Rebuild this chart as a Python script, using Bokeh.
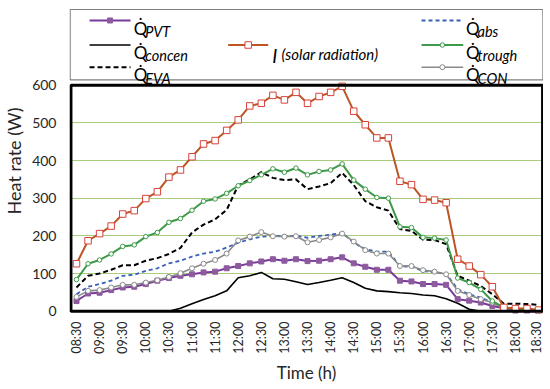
import math
from bokeh.plotting import figure
from bokeh.models import Range1d, FixedTicker
from bokeh.core.properties import value
from bokeh.embed import file_html
from bokeh.resources import INLINE

# ---------------- data (15-minute samples, 08:30 ... 18:30) ----------------
tick_labels = ["08:30", "09:00", "09:30", "10:00", "10:30", "11:00", "11:30",
               "12:00", "12:30", "13:00", "13:30", "14:00", "14:30", "15:00",
               "15:30", "16:00", "16:30", "17:00", "17:30", "18:00", "18:30"]
slot = list(range(41))

I_solar = [126, 187, 206, 226, 258, 267, 299, 317, 356, 375, 410, 444, 453, 480,
           508, 545, 552, 573, 561, 581, 552, 570, 581, 597, 531, 495, 460, 460,
           345, 336, 297, 295, 288, 138, 120, 97, 65, 10, 7, 7, 3]
Q_trough = [84, 126, 136, 152, 172, 176, 198, 209, 236, 246, 268, 292, 298, 313,
            333, 347, 362, 378, 369, 380, 362, 371, 375, 391, 348, 324, 302, 300,
            224, 222, 196, 194, 189, 88, 76, 58, 27, 10, 5, 3, 2]
Q_EVA = [63, 94, 100, 110, 122, 122, 134, 141, 152, 168, 209, 230, 244, 269,
         334, 350, 369, 354, 348, 350, 324, 331, 340, 367, 335, 292, 276, 267,
         218, 213, 190, 189, 178, 94, 81, 67, 45, 20, 20, 19, 17]
Q_abs = [45, 65, 72, 81, 94, 97, 107, 114, 127, 134, 145, 153, 158, 169,
         182, 191, 198, 200, 200, 200, 195, 200, 203, 208, 182, 165, 158, 158,
         120, 118, 107, 103, 100, 58, 45, 36, 23, 10, 5, 3, 2]
Q_CON = [38, 54, 56, 63, 70, 70, 76, 82, 91, 101, 114, 126, 136, 153,
         188, 198, 210, 199, 198, 199, 183, 189, 196, 206, 185, 162, 153, 153,
         120, 120, 109, 105, 98, 54, 43, 32, 23, 8, 4, 3, 2]
Q_PVT = [27, 47, 49, 56, 63, 65, 72, 81, 88, 94, 98, 103, 105, 114,
         120, 127, 132, 138, 134, 138, 133, 134, 138, 143, 127, 118, 110, 110,
         81, 79, 72, 72, 70, 32, 28, 23, 14, 8, 1, 1, 1]
Q_concen = [0, 0, 0, 0, 0, 0, 0, 0, 0, 8, 20, 31, 41, 54,
            89, 94, 103, 86, 85, 78, 71, 76, 82, 89, 76, 61, 54, 52,
            49, 47, 43, 41, 33, 21, 5, 0, 0, 0, 0, 0, 0]
y_ticks = [0, 100, 200, 300, 400, 500, 600]

# ---------------- styles ----------------
FONT = "Lato"
C_I_LINE, C_I_MARK = "#bd5424", "#d8423a"
C_TROUGH = "#3e9a48"
C_ABS = "#3a5fb8"
C_CON = "#8a8a8a"
C_PVT, C_PVT_MARK = "#7a3a9c", "#8e5a9e"
C_GRID = "#a9cd7c"

p = figure(frame_width=474, frame_height=305,
           x_range=Range1d(-0.606, 40.43), y_range=Range1d(-6.1, 803.6),
           output_backend="svg", toolbar_location=None,
           min_border_left=60, min_border_right=0, min_border_top=8,
           min_border_bottom=0)
p.outline_line_color = None
p.background_fill_color = "white"
p.border_fill_color = "white"

# axes
p.xaxis.ticker = FixedTicker(ticks=[i * 2 for i in range(len(tick_labels))])
p.xaxis.major_label_overrides = {i * 2: lab for i, lab in enumerate(tick_labels)}
p.xaxis.major_label_orientation = math.pi / 2
p.yaxis.ticker = FixedTicker(ticks=y_ticks)
for ax in (p.xaxis, p.yaxis):
    ax.axis_line_color = None
    ax.major_tick_line_color = None
    ax.minor_tick_line_color = None
    ax.major_label_text_font = FONT
    ax.major_label_text_color = "#262626"
    ax.axis_label_text_font = FONT
    ax.axis_label_text_font_style = "normal"
    ax.axis_label_text_color = "#262626"
p.xaxis.major_label_text_font_size = "12.5px"
p.yaxis.major_label_text_font_size = "14px"
p.xaxis.axis_label_text_font_size = "17px"
p.yaxis.axis_label_text_font_size = "18px"
p.xaxis.major_label_standoff = 2
p.yaxis.major_label_standoff = 7
p.xaxis.axis_label = "Time (h)"
p.yaxis.axis_label = "Heat rate (W)"
p.xaxis.axis_label_standoff = 5
p.yaxis.axis_label_standoff = 4

p.xgrid.visible = False
p.ygrid.ticker = FixedTicker(ticks=y_ticks)
p.ygrid.grid_line_color = C_GRID
p.ygrid.grid_line_width = 1

# ---------------- series ----------------
p.line(slot, Q_concen, line_color="black", line_width=1.6)
p.line(slot, Q_PVT, line_color=C_PVT, line_width=2)
p.scatter(slot, Q_PVT, marker="square", size=5, fill_color=C_PVT_MARK,
          line_color=C_PVT_MARK)
p.line(slot, Q_abs, line_color=C_ABS, line_width=1.8, line_dash="4 3")
p.line(slot, Q_CON, line_color=C_CON, line_width=1.6)
p.scatter(slot, Q_CON, marker="circle", size=5, fill_color="white",
          line_color=C_CON, line_width=1)
p.line(slot, Q_EVA, line_color="black", line_width=2, line_dash="5 3")
p.line(slot, Q_trough, line_color=C_TROUGH, line_width=2)
p.scatter(slot, Q_trough, marker="circle", size=4.5, fill_color="white",
          line_color=C_TROUGH, line_width=1)
p.line(slot, I_solar, line_color=C_I_LINE, line_width=2)
p.scatter(slot, I_solar, marker="square", size=6.5, fill_color="white",
          line_color=C_I_MARK, line_width=1)

# plot-area border and legend box
p.quad(left=-0.48, right=40.35, bottom=0, top=600, fill_color=None,
       line_color="black", line_width=3)
p.quad(left=-0.55, right=40.38, bottom=614, top=801, fill_color=None,
       line_color="#7f7f7f", line_width=1.2)

# ---------------- legend ----------------
rows = [771.8, 706.7, 647.8]
cols = {1: (1.13, 4.68, 4.95, 5.95), 2: (13.13, 16.6, 16.95, 17.75),
        3: (29.87, 33.48, 33.72, 34.72)}
q_off, sub_off = -20.0, -29.2


def sample(col, row, color, width, dash="solid", marker=None, msize=5,
           mfill="white", mline=None):
    x0, x1 = cols[col][0], cols[col][1]
    y = rows[row]
    p.line([x0, x1], [y, y], line_color=color, line_width=width, line_dash=dash)
    if marker:
        p.scatter([(x0 + x1) / 2], [y], marker=marker, size=msize,
                  fill_color=mfill, line_color=mline or color, line_width=1)


def qlabel(col, row, sub):
    xq, xs = cols[col][2], cols[col][3]
    y = rows[row]
    p.text([xq], [y + q_off], text=["Q\u0307"], text_font=value(FONT),
           text_font_size="17px", text_baseline="alphabetic", text_color="black")
    p.text([xs], [y + sub_off], text=[sub], text_font=value(FONT),
           text_font_size="14.5px", text_font_style="italic",
           text_baseline="alphabetic", text_color="black")


sample(1, 0, C_PVT, 2, marker="square", mfill=C_PVT_MARK, mline=C_PVT_MARK)
qlabel(1, 0, "PVT")
sample(1, 1, "black", 1.6)
qlabel(1, 1, "concen")
sample(1, 2, "black", 2, dash="5 3")
qlabel(1, 2, "EVA")

sample(2, 1, C_I_LINE, 2, marker="square", msize=6.5, mline=C_I_MARK)
p.text([cols[2][2]], [rows[1] - 27.5], text=["I"], text_font=value(FONT),
       text_font_size="19px", text_font_style="italic",
       text_baseline="alphabetic", text_color="black")
p.text([cols[2][3]], [rows[1] - 25.0], text=["(solar radiation)"],
       text_font=value(FONT), text_font_size="15px", text_font_style="italic",
       text_baseline="alphabetic", text_color="black")

sample(3, 0, C_ABS, 1.8, dash="4 3")
qlabel(3, 0, "abs")
sample(3, 1, C_TROUGH, 2, marker="circle", msize=4.5)
qlabel(3, 1, "trough")
sample(3, 2, C_CON, 1.6, marker="circle", msize=5)
qlabel(3, 2, "CON")

open("out.html", "w").write(file_html(p, INLINE))
